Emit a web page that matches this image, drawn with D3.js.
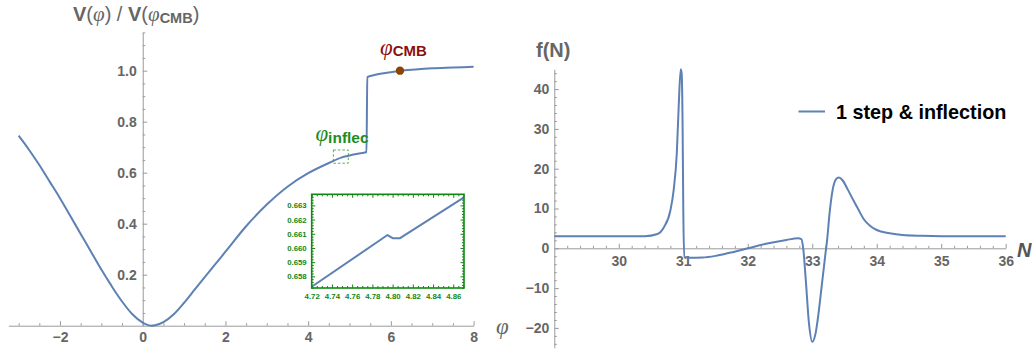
<!DOCTYPE html>
<html>
<head>
<meta charset="utf-8">
<script src="https://cdn.jsdelivr.net/npm/d3@7"></script>
<style>
  html, body { margin: 0; padding: 0; background: #fff; }
  svg { display: block; }
</style>
</head>
<body>
<svg id="chart" width="1032" height="352"></svg>
<script>
// ---- Potential V(phi)/V(phi_CMB) ----
const phiValues = [-3.0, -2.75, -2.5, -2.25, -2.0, -1.75, -1.5, -1.25, -1.0, -0.75, -0.5, -0.25, 0.0, 0.1, 0.2, 0.3, 0.5, 0.75, 1.0, 1.25, 1.5, 1.75, 2.0, 2.5, 3.0, 3.5, 4.0, 4.5, 4.8, 5.0, 5.2, 5.41, 5.43, 5.6, 6.0, 6.22, 6.6, 7.0, 7.5, 8.0];
const potentialValues = [0.745, 0.69, 0.63, 0.565, 0.50, 0.43, 0.36, 0.29, 0.22, 0.155, 0.095, 0.045, 0.012, 0.004, 0.0, 0.002, 0.014, 0.045, 0.09, 0.14, 0.19, 0.24, 0.29, 0.39, 0.475, 0.545, 0.598, 0.638, 0.659, 0.667, 0.674, 0.681, 0.975, 0.983, 0.994, 1.0, 1.005, 1.009, 1.012, 1.015];
const phiTicks = [-2, 0, 2, 4, 6, 8];
const potentialTicks = [0.2, 0.4, 0.6, 0.8, 1.0];

// marked field values
const phiCMB = 6.22, potentialCMB = 1.0;
const inflecBoxPhi = [4.61, 4.97], inflecBoxV = [0.637, 0.689];

// ---- Zoom around the inflection point ----
const insetPhi = [4.72, 4.795, 4.80, 4.807, 4.8706];
const insetV = [0.65727, 0.66091, 0.66069, 0.66068, 0.66356];
const insetPhiTicks = [4.72, 4.74, 4.76, 4.78, 4.80, 4.82, 4.84, 4.86];
const insetVTicks = [0.658, 0.659, 0.660, 0.661, 0.662, 0.663];

// ---- f(N) ----
const nValues = [29.0, 30.0, 30.4, 30.6, 30.7, 30.8, 30.85, 30.9, 30.93, 30.96, 30.975, 30.99, 31.0, 31.015, 31.1, 31.3, 31.5, 31.7, 32.0, 32.3, 32.6, 32.78, 32.83, 32.86, 32.9, 32.95, 33.0, 33.05, 33.1, 33.15, 33.2, 33.23, 33.27, 33.32, 33.37, 33.41, 33.47, 33.55, 33.64, 33.72, 33.8, 33.9, 34.0, 34.2, 34.4, 34.7, 35.0, 36.0];
const fValues = [3.0, 3.0, 3.05, 3.6, 5.3, 9.5, 14.5, 24, 36, 45, 44, 30, 10, -2.2, -2.35, -2.3, -1.9, -1.2, 0.0, 1.2, 2.1, 2.5, 2.3, 0.0, -8, -19, -23.5, -21.5, -16, -9, -2, 2, 9, 15, 17.4, 17.8, 17.1, 14.8, 12, 9.6, 7.3, 5.6, 4.6, 3.8, 3.35, 3.15, 3.05, 3.0];
const nTicks = [30, 31, 32, 33, 34, 35, 36];
const fTicks = [-20, -10, 0, 10, 20, 30, 40];
const legendLabel = "1 step & inflection";

const lineColor = "#5e81b5";
const axisColor = "#9a9a9a";
const labelColor = "#666";
const sans = "Liberation Sans, Arial, sans-serif";
const svg = d3.select("#chart");

function range(a, b, step) {
  const out = [];
  const n = Math.round((b - a) / step);
  for (let i = 0; i <= n; i++) out.push(+(a + i * step).toFixed(6));
  return out;
}
const minus = d => d < 0 ? "\u2212" + Math.abs(d) : String(d);

// styles an axis group: line colour, label font and colour
function styleAxis(g, stroke, fill, size, keepDomain) {
  if (!keepDomain) g.select(".domain").remove();
  g.selectAll(".domain").style("stroke", stroke);
  g.selectAll(".tick line").style("stroke", stroke);
  g.selectAll(".tick text").style("fill", fill).style("font-family", sans)
    .style("font-weight", "bold").style("font-size", size + "px");
}

// ================= left panel =================
const xL = d3.scaleLinear().domain([-3.25, 8]).range([8.3, 473.6]);
const yL = d3.scaleLinear().domain([0, 1.15]).range([325.7, 32.4]);

const gL = svg.append("g");

// minor ticks
gL.append("g").attr("transform", `translate(0,${yL(0)})`)
  .call(d3.axisBottom(xL).tickValues(range(-3, 8, 0.5).filter(v => !phiTicks.includes(v))).tickSize(-2.5).tickFormat(""))
  .call(g => styleAxis(g, axisColor, labelColor, 14, false));
gL.append("g").attr("transform", `translate(${xL(0)},0)`)
  .call(d3.axisLeft(yL).tickValues(range(0.05, 1.15, 0.05).filter(v => !potentialTicks.some(t => Math.abs(t - v) < 1e-6))).tickSize(-2.5).tickFormat(""))
  .call(g => styleAxis(g, axisColor, labelColor, 14, false));

// major ticks and axis lines
gL.append("g").attr("transform", `translate(0,${yL(0)})`)
  .call(d3.axisBottom(xL).tickValues(phiTicks).tickSizeInner(-4.5).tickSizeOuter(0).tickPadding(6).tickFormat(minus))
  .call(g => styleAxis(g, axisColor, labelColor, 14, true));
gL.append("g").attr("transform", `translate(${xL(0)},0)`)
  .call(d3.axisLeft(yL).tickValues(potentialTicks).tickSizeInner(-4.5).tickSizeOuter(0).tickPadding(6)
    .tickFormat(d3.format(".1f")))
  .call(g => styleAxis(g, axisColor, labelColor, 14, true));

// curve
const potData = phiValues.map((p, i) => [p, potentialValues[i]]);
gL.append("path").datum(potData)
  .attr("fill", "none").attr("stroke", lineColor).attr("stroke-width", 2)
  .attr("d", d3.line().x(d => xL(d[0])).y(d => yL(d[1])).curve(d3.curveMonotoneX));

// inflection window marker
gL.append("rect")
  .attr("x", xL(inflecBoxPhi[0])).attr("y", yL(inflecBoxV[1]))
  .attr("width", xL(inflecBoxPhi[1]) - xL(inflecBoxPhi[0]))
  .attr("height", yL(inflecBoxV[0]) - yL(inflecBoxV[1]))
  .attr("fill", "none").attr("stroke", "#2a9a2a").attr("stroke-width", 0.8).attr("stroke-dasharray", "2.5,2");

// CMB point
gL.append("circle").attr("cx", xL(phiCMB)).attr("cy", yL(potentialCMB)).attr("r", 4.2).attr("fill", "#8a4500");

// labels on the curve
const cmbLabel = gL.append("text").attr("x", xL(phiCMB) - 20).attr("y", yL(potentialCMB) - 16).attr("fill", "#8b1010");
cmbLabel.append("tspan").attr("font-family", "Liberation Serif, serif").attr("font-style", "italic").attr("font-size", 23).text("\u03c6");
cmbLabel.append("tspan").attr("font-family", sans).attr("font-weight", "bold").attr("font-size", 15).attr("dy", 1).text("CMB");

const infLabel = gL.append("text").attr("x", xL(inflecBoxPhi[0]) - 18).attr("y", yL(inflecBoxV[1]) - 9).attr("fill", "#1e8c1e");
infLabel.append("tspan").attr("font-family", "Liberation Serif, serif").attr("font-style", "italic").attr("font-size", 23).text("\u03c6");
infLabel.append("tspan").attr("font-family", sans).attr("font-weight", "bold").attr("font-size", 15.5).attr("dy", 2).text("inflec");

// axis titles
const tL = gL.append("text").attr("x", 73).attr("y", 21).attr("fill", labelColor)
  .attr("font-family", sans).attr("font-size", 20);
tL.append("tspan").attr("font-weight", "bold").text("V");
tL.append("tspan").text("(");
tL.append("tspan").attr("font-family", "Liberation Serif, serif").attr("font-style", "italic").attr("font-size", 21).text("\u03c6");
tL.append("tspan").text(") / ");
tL.append("tspan").attr("font-weight", "bold").text("V");
tL.append("tspan").text("(");
tL.append("tspan").attr("font-family", "Liberation Serif, serif").attr("font-style", "italic").attr("font-size", 21).text("\u03c6");
tL.append("tspan").attr("font-weight", "bold").attr("font-size", 14.5).attr("dy", 2).text("CMB");
tL.append("tspan").attr("dy", -2).text(")");

gL.append("text").attr("x", 496).attr("y", 334).attr("fill", labelColor)
  .attr("font-family", "Liberation Serif, serif").attr("font-style", "italic").attr("font-size", 23).text("\u03c6");

// ---- inset ----
const xI = d3.scaleLinear().domain([4.72, 4.8706]).range([311.7, 464]);
const yI = d3.scaleLinear().domain([0.65718, 0.66378]).range([288, 194.3]);
const insetColor = "#118811";
const gI = svg.append("g");
gI.append("rect").attr("x", 311.7).attr("y", 194.3).attr("width", 464 - 311.7).attr("height", 288 - 194.3).attr("fill", "#fff");

const insetMinorX = range(4.72, 4.87, 0.005).filter(v => !insetPhiTicks.some(t => Math.abs(t - v) < 1e-6));
const insetMinorY = range(0.6572, 0.6637, 0.0002).filter(v => !insetVTicks.some(t => Math.abs(t - v) < 1e-7));
function insetAxis(g, axis) {
  g.call(axis).call(s => styleAxis(s, insetColor, insetColor, 7.8, false));
}
// bottom / top
gI.append("g").attr("transform", `translate(0,${yI.range()[0]})`)
  .call(g => insetAxis(g, d3.axisBottom(xI).tickValues(insetPhiTicks).tickSize(-3.5).tickPadding(5).tickFormat(d3.format(".2f"))));
gI.append("g").attr("transform", `translate(0,${yI.range()[0]})`)
  .call(g => insetAxis(g, d3.axisBottom(xI).tickValues(insetMinorX).tickSize(-2).tickFormat("")));
gI.append("g").attr("transform", `translate(0,${yI.range()[1]})`)
  .call(g => insetAxis(g, d3.axisTop(xI).tickValues(insetPhiTicks).tickSize(-3.5).tickFormat("")));
gI.append("g").attr("transform", `translate(0,${yI.range()[1]})`)
  .call(g => insetAxis(g, d3.axisTop(xI).tickValues(insetMinorX).tickSize(-2).tickFormat("")));
// left / right
gI.append("g").attr("transform", `translate(${xI.range()[0]},0)`)
  .call(g => insetAxis(g, d3.axisLeft(yI).tickValues(insetVTicks).tickSize(-3.5).tickPadding(5).tickFormat(d3.format(".3f"))));
gI.append("g").attr("transform", `translate(${xI.range()[0]},0)`)
  .call(g => insetAxis(g, d3.axisLeft(yI).tickValues(insetMinorY).tickSize(-2).tickFormat("")));
gI.append("g").attr("transform", `translate(${xI.range()[1]},0)`)
  .call(g => insetAxis(g, d3.axisRight(yI).tickValues(insetVTicks).tickSize(-3.5).tickFormat("")));
gI.append("g").attr("transform", `translate(${xI.range()[1]},0)`)
  .call(g => insetAxis(g, d3.axisRight(yI).tickValues(insetMinorY).tickSize(-2).tickFormat("")));

const insetData = insetPhi.map((p, i) => [p, insetV[i]]);
gI.append("path").datum(insetData)
  .attr("fill", "none").attr("stroke", lineColor).attr("stroke-width", 2).attr("stroke-linejoin", "round")
  .attr("d", d3.line().x(d => xI(d[0])).y(d => yI(d[1])));
gI.append("rect").attr("x", 311.7).attr("y", 194.3).attr("width", 464 - 311.7).attr("height", 288 - 194.3)
  .attr("fill", "none").attr("stroke", insetColor).attr("stroke-width", 1.6);

// ================= right panel =================
const xR = d3.scaleLinear().domain([29, 36]).range([554.3, 1005.7]);
const yR = d3.scaleLinear().domain([-25, 45]).range([347.8, 69.2]);
const gR = svg.append("g");

gR.append("g").attr("transform", `translate(0,${yR(0)})`)
  .call(d3.axisBottom(xR).tickValues(range(29.2, 36, 0.2).filter(v => !nTicks.includes(Math.round(v * 1000) / 1000))).tickSize(-2.5).tickFormat(""))
  .call(g => styleAxis(g, axisColor, labelColor, 14, false));
gR.append("g").attr("transform", `translate(${xR(29)},0)`)
  .call(d3.axisLeft(yR).tickValues(range(-24, 44, 2).filter(v => v % 10 !== 0)).tickSize(-2.5).tickFormat(""))
  .call(g => styleAxis(g, axisColor, labelColor, 14, false));

gR.append("g").attr("transform", `translate(0,${yR(0)})`)
  .call(d3.axisBottom(xR).tickValues(nTicks).tickSizeInner(-4.5).tickSizeOuter(0).tickPadding(8).tickFormat(d3.format("d")))
  .call(g => styleAxis(g, axisColor, labelColor, 14, true));
gR.append("g").attr("transform", `translate(${xR(29)},0)`)
  .call(d3.axisLeft(yR).tickValues(fTicks).tickSizeInner(-4.5).tickSizeOuter(0).tickPadding(5).tickFormat(minus))
  .call(g => styleAxis(g, axisColor, labelColor, 14, true));

const fData = nValues.map((n, i) => [n, fValues[i]]);
gR.append("path").datum(fData)
  .attr("fill", "none").attr("stroke", lineColor).attr("stroke-width", 2)
  .attr("d", d3.line().x(d => xR(d[0])).y(d => yR(d[1])).curve(d3.curveMonotoneX));

// legend
gR.append("line").attr("x1", 798.5).attr("x2", 825).attr("y1", 111.5).attr("y2", 111.5)
  .attr("stroke", lineColor).attr("stroke-width", 2);
gR.append("text").attr("x", 836).attr("y", 118.5).attr("fill", "#000")
  .attr("font-family", sans).attr("font-weight", "bold").attr("font-size", 19.8)
  .text(legendLabel);

// axis titles
gR.append("text").attr("x", 536).attr("y", 57).attr("fill", labelColor)
  .attr("font-family", sans).attr("font-weight", "bold").attr("font-size", 20)
  .text("f(N)");
gR.append("text").attr("x", 1017).attr("y", 257).attr("fill", "#555")
  .attr("font-family", sans).attr("font-weight", "bold").attr("font-style", "italic").attr("font-size", 20)
  .text("N");
</script>
</body>
</html>
